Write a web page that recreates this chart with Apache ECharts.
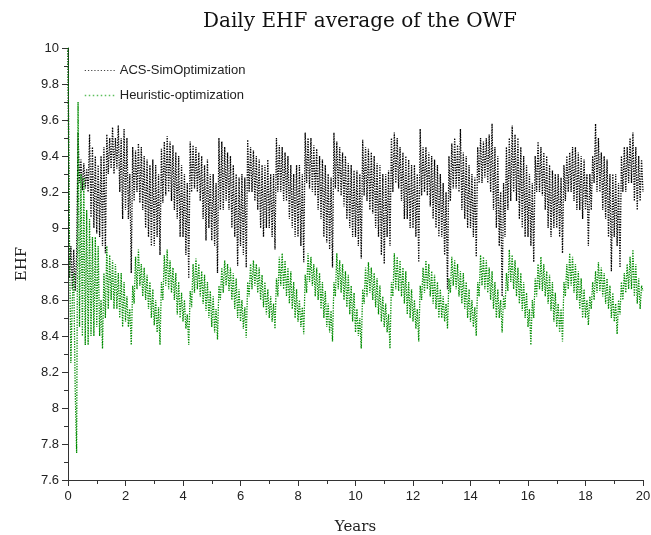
<!DOCTYPE html>
<html>
<head>
<meta charset="utf-8">
<script src="https://cdn.jsdelivr.net/npm/echarts@6/dist/echarts.min.js"></script>
<style>
  html, body { margin: 0; padding: 0; background: #fff; }
  #charts { width: 651px; height: 535px; }
</style>
</head>
<body>
<div id="charts"></div>
<script>
  // sample spacing in years (values every 0.05 year)
  var step = 0.05;

  // ACS-SimOptimization, one row per year
  var acsValues = [
    10.0, 8.72, 8.9, 8.66, 8.88, 8.65, 8.85, 9.53, 9.25, 9.38, 9.21, 9.36, 9.22, 9.33, 9.2, 9.52, 9.06, 9.45, 9.0, 9.4,
    8.97, 9.35, 8.95, 9.4, 8.9, 9.45, 8.86, 9.52, 9.3, 9.5, 9.33, 9.56, 9.3, 9.5, 9.33, 9.57, 9.2, 9.5, 9.05, 9.55,
    9.1, 9.5, 9.05, 9.3, 8.75, 9.45, 9.15, 9.43, 9.2, 9.47, 9.14, 9.45, 9.1, 9.4, 9.0, 9.38, 8.95, 9.35, 8.9, 9.38,
    8.9, 9.35, 8.95, 9.3, 8.85, 9.44, 9.14, 9.48, 9.18, 9.51, 9.2, 9.48, 9.15, 9.46, 9.1, 9.42, 9.05, 9.4, 8.95, 9.35,
    8.95, 9.3, 8.85, 9.25, 8.72, 9.48, 9.2, 9.46, 9.22, 9.45, 9.2, 9.42, 9.15, 9.4, 9.05, 9.35, 8.93, 9.38, 9.0, 9.3,
    8.93, 9.3, 8.9, 9.25, 8.75, 9.5, 9.1, 9.48, 9.1, 9.45, 9.15, 9.42, 9.1, 9.4, 9.0, 9.35, 8.95, 9.3, 8.79, 9.28,
    8.9, 9.3, 8.85, 9.28, 8.78, 9.49, 9.2, 9.45, 9.2, 9.43, 9.15, 9.4, 9.1, 9.38, 9.0, 9.35, 8.95, 9.35, 9.0, 9.38,
    9.0, 9.3, 8.95, 9.3, 8.88, 9.5, 9.2, 9.46, 9.2, 9.45, 9.15, 9.42, 9.15, 9.4, 9.05, 9.35, 9.0, 9.3, 8.95, 9.35,
    8.95, 9.35, 8.9, 9.3, 8.81, 9.53, 9.25, 9.5, 9.22, 9.5, 9.2, 9.46, 9.18, 9.44, 9.1, 9.4, 9.05, 9.38, 8.95, 9.35,
    8.92, 9.3, 8.88, 9.28, 8.78, 9.53, 9.22, 9.48, 9.2, 9.45, 9.18, 9.42, 9.12, 9.4, 9.05, 9.36, 9.0, 9.35, 8.95, 9.32,
    8.95, 9.32, 8.9, 9.3, 8.83, 9.49, 9.18, 9.45, 9.15, 9.44, 9.1, 9.42, 9.08, 9.4, 9.0, 9.36, 8.95, 9.35, 8.85, 9.3,
    8.8, 9.3, 8.95, 9.32, 8.9, 9.5, 9.2, 9.53, 9.25, 9.5, 9.22, 9.45, 9.15, 9.42, 9.05, 9.4, 9.05, 9.38, 9.0, 9.35,
    9.0, 9.35, 8.95, 9.3, 8.81, 9.55, 9.18, 9.45, 9.2, 9.45, 9.18, 9.42, 9.12, 9.4, 9.05, 9.38, 9.0, 9.35, 8.95, 9.3,
    8.95, 9.25, 8.85, 9.2, 8.66, 9.4, 9.15, 9.47, 9.22, 9.5, 9.22, 9.46, 9.2, 9.55, 9.1, 9.42, 9.05, 9.4, 9.0, 9.35,
    9.0, 9.3, 8.95, 9.28, 8.84, 9.45, 9.25, 9.5, 9.25, 9.48, 9.28, 9.5, 9.25, 9.52, 9.2, 9.58, 9.1, 9.45, 9.0, 9.4,
    8.9, 9.2, 8.62, 9.25, 8.95, 9.45, 9.1, 9.5, 9.15, 9.57, 9.2, 9.52, 9.15, 9.5, 9.05, 9.45, 9.0, 9.4, 8.95, 9.35,
    8.95, 9.3, 8.9, 9.25, 8.81, 9.4, 9.2, 9.48, 9.2, 9.45, 9.18, 9.42, 9.1, 9.4, 9.0, 9.35, 8.95, 9.32, 9.0, 9.3,
    9.0, 9.3, 8.95, 9.28, 8.86, 9.35, 9.15, 9.4, 9.2, 9.42, 9.2, 9.45, 9.15, 9.45, 9.1, 9.42, 9.1, 9.4, 9.05, 9.38,
    9.1, 9.3, 8.9, 9.3, 9.1, 9.4, 9.25, 9.58, 9.2, 9.5, 9.2, 9.42, 9.1, 9.4, 9.05, 9.38, 8.95, 9.3, 8.76, 9.3,
    8.95, 9.3, 8.9, 9.25, 8.78, 9.4, 9.2, 9.45, 9.2, 9.45, 9.25, 9.5, 9.25, 9.53, 9.15, 9.45, 9.1, 9.4, 9.15, 9.38,
    9.2
  ];

  // Heuristic-optimization, one row per year
  var heuValues = [
    10.0, 8.95, 8.25, 8.6, 8.75, 8.1, 7.75, 9.7, 8.45, 9.3, 8.4, 9.28, 8.35, 9.1, 8.35, 9.05, 8.4, 8.95, 8.4, 8.95,
    8.45, 8.9, 8.4, 8.6, 8.33, 8.75, 8.5, 8.9, 8.55, 8.85, 8.6, 8.82, 8.55, 8.8, 8.55, 8.75, 8.5, 8.75, 8.45, 8.7,
    8.48, 8.62, 8.45, 8.55, 8.35, 8.68, 8.58, 8.84, 8.66, 8.88, 8.68, 8.8, 8.62, 8.78, 8.6, 8.74, 8.55, 8.7, 8.5, 8.66,
    8.46, 8.6, 8.42, 8.56, 8.35, 8.7, 8.6, 8.85, 8.68, 8.88, 8.66, 8.82, 8.64, 8.78, 8.6, 8.75, 8.52, 8.7, 8.5, 8.64,
    8.48, 8.6, 8.44, 8.52, 8.35, 8.65, 8.56, 8.8, 8.64, 8.83, 8.66, 8.8, 8.62, 8.76, 8.58, 8.74, 8.54, 8.7, 8.5, 8.65,
    8.45, 8.62, 8.42, 8.55, 8.38, 8.68, 8.6, 8.78, 8.64, 8.82, 8.68, 8.8, 8.65, 8.78, 8.6, 8.75, 8.55, 8.72, 8.5, 8.66,
    8.48, 8.6, 8.44, 8.56, 8.39, 8.7, 8.62, 8.8, 8.66, 8.82, 8.68, 8.8, 8.64, 8.78, 8.6, 8.74, 8.56, 8.7, 8.52, 8.66,
    8.5, 8.62, 8.48, 8.58, 8.44, 8.72, 8.62, 8.84, 8.68, 8.86, 8.66, 8.82, 8.62, 8.78, 8.58, 8.76, 8.55, 8.7, 8.5, 8.66,
    8.48, 8.6, 8.45, 8.56, 8.41, 8.74, 8.64, 8.86, 8.7, 8.84, 8.68, 8.8, 8.62, 8.78, 8.6, 8.75, 8.55, 8.7, 8.5, 8.65,
    8.45, 8.58, 8.42, 8.54, 8.37, 8.7, 8.62, 8.86, 8.66, 8.82, 8.64, 8.8, 8.6, 8.76, 8.56, 8.74, 8.52, 8.68, 8.48, 8.64,
    8.42, 8.55, 8.4, 8.5, 8.33, 8.66, 8.58, 8.78, 8.62, 8.81, 8.64, 8.78, 8.6, 8.75, 8.56, 8.72, 8.52, 8.68, 8.48, 8.62,
    8.45, 8.58, 8.42, 8.52, 8.33, 8.7, 8.62, 8.86, 8.66, 8.84, 8.65, 8.82, 8.62, 8.78, 8.58, 8.76, 8.52, 8.7, 8.5, 8.66,
    8.48, 8.6, 8.44, 8.55, 8.37, 8.68, 8.6, 8.78, 8.64, 8.82, 8.66, 8.8, 8.62, 8.76, 8.58, 8.74, 8.55, 8.7, 8.5, 8.66,
    8.5, 8.62, 8.48, 8.58, 8.44, 8.72, 8.64, 8.84, 8.68, 8.82, 8.66, 8.8, 8.62, 8.76, 8.58, 8.75, 8.55, 8.7, 8.5, 8.66,
    8.48, 8.6, 8.45, 8.56, 8.4, 8.7, 8.62, 8.85, 8.68, 8.84, 8.66, 8.82, 8.64, 8.78, 8.6, 8.76, 8.55, 8.7, 8.5, 8.66,
    8.5, 8.6, 8.42, 8.62, 8.55, 8.75, 8.65, 8.88, 8.7, 8.85, 8.66, 8.82, 8.62, 8.78, 8.58, 8.75, 8.54, 8.7, 8.5, 8.64,
    8.45, 8.55, 8.35, 8.6, 8.5, 8.72, 8.62, 8.8, 8.66, 8.84, 8.65, 8.8, 8.62, 8.76, 8.58, 8.74, 8.54, 8.7, 8.48, 8.64,
    8.45, 8.58, 8.42, 8.55, 8.37, 8.7, 8.62, 8.8, 8.66, 8.86, 8.68, 8.84, 8.64, 8.8, 8.6, 8.76, 8.55, 8.72, 8.5, 8.66,
    8.5, 8.6, 8.46, 8.62, 8.55, 8.7, 8.6, 8.76, 8.64, 8.81, 8.65, 8.78, 8.62, 8.75, 8.58, 8.72, 8.55, 8.68, 8.5, 8.64,
    8.48, 8.58, 8.41, 8.6, 8.52, 8.7, 8.6, 8.75, 8.64, 8.8, 8.66, 8.84, 8.66, 8.88, 8.62, 8.8, 8.58, 8.72, 8.55, 8.68,
    8.65
  ];

  var seriesNames = ['ACS-SimOptimization', 'Heuristic-optimization'];

  function toPairs(values) {
    return values.map(function (v, i) { return [+(i * step).toFixed(2), v]; });
  }

  var myChart = echarts.init(document.getElementById('charts'));
  var sans = 'Liberation Sans, Arial, sans-serif';
  var serif = 'DejaVu Serif, serif';

  var option = {
    backgroundColor: '#fff',
    animation: false,
    title: {
      text: 'Daily EHF average of the OWF',
      left: 355,
      textAlign: 'center',
      top: 7,
      textStyle: { fontFamily: serif, fontSize: 20, fontWeight: 'normal', color: '#111' }
    },
    grid: { left: 68, right: 8, top: 48, bottom: 55, outerBoundsMode: 'none' },
    legend: {
      show: true,
      orient: 'vertical',
      left: 79,
      top: 59,
      itemWidth: 30,
      itemHeight: 12,
      itemGap: 12,
      itemStyle: { opacity: 0 },
      textStyle: { fontFamily: sans, fontSize: 13, color: '#222' },
      data: [
        { name: seriesNames[0], lineStyle: { color: '#444', width: 1.2, type: [1.2, 2] } },
        { name: seriesNames[1], lineStyle: { color: '#5cbf5c', width: 1.5, type: [1.5, 2.5] } }
      ]
    },
    xAxis: {
      type: 'value',
      min: 0,
      max: 20,
      interval: 2,
      name: 'Years',
      nameLocation: 'middle',
      nameGap: 40,
      nameTextStyle: { fontFamily: serif, fontSize: 15, color: '#222' },
      axisLine: { lineStyle: { color: '#333', width: 1 } },
      axisTick: { show: true, length: 6, lineStyle: { color: '#333' } },
      minorTick: { show: true, splitNumber: 2, length: 4, lineStyle: { color: '#333' } },
      splitLine: { show: false },
      axisLabel: { fontFamily: sans, fontSize: 13, color: '#222', margin: 10 }
    },
    yAxis: {
      type: 'value',
      min: 7.6,
      max: 10,
      interval: 0.2,
      name: 'EHF',
      nameLocation: 'middle',
      nameGap: 37,
      nameTextStyle: { fontFamily: serif, fontSize: 15, color: '#222' },
      axisLine: { show: true, lineStyle: { color: '#333', width: 1 } },
      axisTick: { show: true, length: 6, lineStyle: { color: '#333' } },
      minorTick: { show: true, splitNumber: 2, length: 4, lineStyle: { color: '#333' } },
      splitLine: { show: false },
      axisLabel: { fontFamily: sans, fontSize: 13, color: '#222', margin: 9 }
    },
    series: [{
      name: seriesNames[0],
      type: 'line',
      showSymbol: false,
      symbol: 'none',
      color: '#000',
      lineStyle: { color: '#000', width: 1.3, type: 'dotted' },
      data: toPairs(acsValues)
    }, {
      name: seriesNames[1],
      type: 'line',
      showSymbol: false,
      symbol: 'none',
      color: '#008c00',
      lineStyle: { color: '#008c00', width: 1.3, type: 'dotted' },
      data: toPairs(heuValues)
    }]
  };
  myChart.setOption(option);
</script>
</body>
</html>
